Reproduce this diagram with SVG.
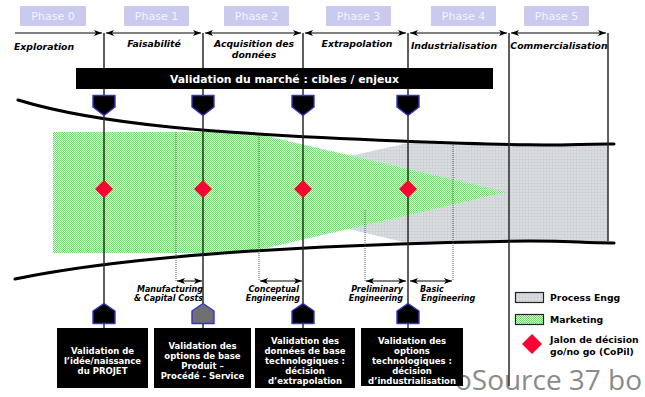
<svg xmlns="http://www.w3.org/2000/svg" width="645" height="397" viewBox="0 0 645 397">
<defs>
<style>
.ph{fill:#cacaee}
.pht{font-family:"DejaVu Sans",Verdana,sans-serif;font-size:11px;fill:#f2f2ff;text-anchor:middle}
.lbl{font-family:"DejaVu Sans",Verdana,sans-serif;font-size:9.3px;font-weight:bold;font-style:italic;fill:#000}
.sm{font-family:"DejaVu Sans",Verdana,sans-serif;font-size:8px;font-weight:bold;font-style:italic;fill:#000}
.bx{fill:#000}
.bxt{font-family:"DejaVu Sans",Verdana,sans-serif;font-size:8.5px;font-weight:bold;fill:#fff;text-anchor:middle}
.leg{font-family:"DejaVu Sans",Verdana,sans-serif;font-size:9.3px;font-weight:bold;fill:#000}
.vl{stroke:#2a2a2a;stroke-width:1.5;fill:none}
.dot{stroke:#555;stroke-width:1;stroke-dasharray:1 1;fill:none}
.arr{stroke:#000;stroke-width:1;fill:none;marker-start:url(#ah);marker-end:url(#ah)}
.arrR{stroke:#000;stroke-width:1;fill:none;marker-end:url(#ah)}
.sh{fill:#000;stroke:#3434c8;stroke-width:1.4;stroke-linejoin:round}
.dia{fill:#ff0033}
.curve{stroke:#000;stroke-width:3;fill:none;stroke-linecap:round}
</style>
<marker id="ah" viewBox="0 0 8 6" refX="8" refY="3" markerWidth="8" markerHeight="6" markerUnits="userSpaceOnUse" orient="auto-start-reverse">
<path d="M0,0 L8,3 L0,6 L2,3 Z" fill="#000"/>
</marker>
<pattern id="gp" width="2" height="2" patternUnits="userSpaceOnUse">
<rect width="2" height="2" fill="#e2f9e2"/>
<rect width="1" height="1" fill="#72d872"/>
<rect x="1" y="1" width="1" height="1" fill="#72d872"/>
</pattern>
<pattern id="gr" width="3" height="3" patternUnits="userSpaceOnUse">
<rect width="3" height="3" fill="#dadee1"/>
<rect width="3" height="1" fill="#cfd3d7"/>
<rect width="1" height="3" fill="#cfd3d7"/>
</pattern>
</defs>
<rect width="645" height="397" fill="#fff"/>

<g id="phases">
<rect class="ph" x="20" y="6" width="66" height="20"/><text class="pht" x="53" y="20">Phase 0</text>
<rect class="ph" x="124" y="6" width="65" height="20"/><text class="pht" x="156.5" y="20">Phase 1</text>
<rect class="ph" x="224" y="6" width="65" height="20"/><text class="pht" x="256.5" y="20">Phase 2</text>
<rect class="ph" x="326" y="6" width="65" height="20"/><text class="pht" x="358.5" y="20">Phase 3</text>
<rect class="ph" x="431" y="6" width="65" height="20"/><text class="pht" x="463.5" y="20">Phase 4</text>
<rect class="ph" x="524" y="6" width="65" height="20"/><text class="pht" x="556.5" y="20">Phase 5</text>
</g>

<g id="phase-names">
<text class="lbl" x="14" y="50">Exploration</text>
<text class="lbl" x="154" y="47" text-anchor="middle">Faisabilité</text>
<text class="lbl" x="254" y="47" text-anchor="middle">Acquisition des</text>
<text class="lbl" x="254" y="58" text-anchor="middle">données</text>
<text class="lbl" x="357" y="47" text-anchor="middle">Extrapolation</text>
<text class="lbl" x="454" y="49" text-anchor="middle">Industrialisation</text>
<text class="lbl" x="559" y="49" text-anchor="middle">Commercialisation</text>
</g>

<g id="areas">
<path d="M190,192 L408,143 L608,143.5 L608,242 L408,243 Z" fill="url(#gr)"/>
<path d="M53,132 L250,132 L507,192 L245,253 L53,253 Z" fill="url(#gp)"/>
</g>

<g id="watermark">
<text x="455" y="390" font-family="'Open Sans',sans-serif" font-size="27" fill="#8a8a8a" textLength="187" lengthAdjust="spacingAndGlyphs">oSource 37 bo</text>
</g>

<g id="connectors">
<path class="curve" d="M18,100 C100,125 220,134 400,141 S560,143.5 614,144"/>
<path class="curve" d="M15,279 C97,262 220,250 400,244 S560,243 614,243"/>
<line class="arrR" x1="15" y1="33" x2="102" y2="33"/>
<line class="arr" x1="106" y1="33" x2="201" y2="33"/>
<line class="arr" x1="205" y1="33" x2="301" y2="33"/>
<line class="arr" x1="305" y1="33" x2="406" y2="33"/>
<line class="arr" x1="410" y1="33" x2="507" y2="33"/>
<line class="arr" x1="511" y1="33" x2="606" y2="33"/>
<line class="vl" x1="104" y1="33" x2="104" y2="328"/>
<line class="vl" x1="203" y1="33" x2="203" y2="328"/>
<line class="vl" x1="303" y1="33" x2="303" y2="328"/>
<line class="vl" x1="408" y1="33" x2="408" y2="328"/>
<line class="vl" x1="509" y1="33" x2="509" y2="386"/>
<line class="vl" x1="608" y1="33" x2="608" y2="241"/>
<line class="dot" x1="176" y1="132" x2="176" y2="281"/>
<line class="dot" x1="259" y1="137" x2="259" y2="281"/>
<line class="dot" x1="365" y1="210" x2="365" y2="281"/>
<line class="dot" x1="453" y1="145" x2="453" y2="281"/>
<line class="arr" x1="177" y1="281" x2="202" y2="281"/>
<line class="arr" x1="260" y1="281" x2="302" y2="281"/>
<line class="arr" x1="366" y1="281" x2="406" y2="281"/>
<line class="arr" x1="410" y1="281" x2="452" y2="281"/>
</g>

<g id="banner">
<rect x="76" y="68" width="417" height="21" fill="#000"/>
<text x="284.5" y="82.5" font-family="'DejaVu Sans',Verdana,sans-serif" font-size="10.8" font-weight="bold" fill="#fff" text-anchor="middle">Validation du marché : cibles / enjeux</text>
</g>

<g id="sub-labels">
<text class="sm" x="203" y="292" text-anchor="end">Manufacturing</text>
<text class="sm" x="203" y="301" text-anchor="end">&amp; Capital Costs</text>
<text class="sm" x="299" y="292" text-anchor="end">Conceptual</text>
<text class="sm" x="300" y="301" text-anchor="end">Engineering</text>
<text class="sm" x="403" y="292" text-anchor="end">Preliminary</text>
<text class="sm" x="403" y="301" text-anchor="end">Engineering</text>
<text class="sm" x="420" y="292">Basic</text>
<text class="sm" x="421" y="301">Engineering</text>
</g>

<g id="top-shields">
<path class="sh" d="M93,95.5 H115 V107 L104,115.5 L93,107 Z"/>
<path class="sh" d="M192,95.5 H214 V107 L203,115.5 L192,107 Z"/>
<path class="sh" d="M292,95.5 H314 V107 L303,115.5 L292,107 Z"/>
<path class="sh" d="M397,95.5 H419 V107 L408,115.5 L397,107 Z"/>
</g>

<g id="milestones">
<path class="dia" d="M104,180 L113,189 L104,198 L95,189 Z"/>
<path class="dia" d="M203,180 L212,189 L203,198 L194,189 Z"/>
<path class="dia" d="M303,180 L312,189 L303,198 L294,189 Z"/>
<path class="dia" d="M408,180 L417,189 L408,198 L399,189 Z"/>
</g>

<g id="bottom-shields">
<path class="sh" d="M104,303.5 L115,311 V323.5 H93 V311 Z"/>
<path class="sh" d="M203,303.5 L214,311 V323.5 H192 V311 Z" style="fill:#707070"/>
<path class="sh" d="M303,303.5 L314,311 V323.5 H292 V311 Z"/>
<path class="sh" d="M408,303.5 L419,311 V323.5 H397 V311 Z"/>
</g>

<g id="box1">
<rect class="bx" x="57" y="328" width="91" height="60"/>
<text class="bxt" x="102.5" y="354">Validation de</text>
<text class="bxt" x="102.5" y="364">l’idée/naissance</text>
<text class="bxt" x="102.5" y="374">du PROJET</text>
</g>
<g id="box2">
<rect class="bx" x="154" y="328" width="97" height="60"/>
<text class="bxt" x="202.5" y="349">Validation des</text>
<text class="bxt" x="202.5" y="359">options de base</text>
<text class="bxt" x="202.5" y="369">Produit –</text>
<text class="bxt" x="202.5" y="379">Procédé - Service</text>
</g>
<g id="box3">
<rect class="bx" x="255" y="328" width="100" height="60"/>
<text class="bxt" x="305" y="344">Validation des</text>
<text class="bxt" x="305" y="354">données de base</text>
<text class="bxt" x="305" y="364">technologiques :</text>
<text class="bxt" x="305" y="374">décision</text>
<text class="bxt" x="305" y="384">d’extrapolation</text>
</g>
<g id="box4">
<rect class="bx" x="361" y="328" width="102" height="58"/>
<text class="bxt" x="412" y="344">Validation des</text>
<text class="bxt" x="412" y="354">options</text>
<text class="bxt" x="412" y="364">technologiques :</text>
<text class="bxt" x="412" y="374">décision</text>
<text class="bxt" x="412" y="384">d’industrialisation</text>
</g>

<g id="legend">
<rect x="515.5" y="292.5" width="28" height="10" fill="url(#gr)" stroke="#222" stroke-width="1.2"/>
<text class="leg" x="550" y="301">Process Engg</text>
<rect x="515.5" y="314.5" width="28" height="10" fill="url(#gp)" stroke="#222" stroke-width="1.2"/>
<text class="leg" x="550" y="323">Marketing</text>
<path class="dia" d="M532,334 L542,344 L532,354 L522,344 Z"/>
<text class="leg" x="550" y="343">Jalon de décision</text>
<text class="leg" x="550" y="355">go/no go (CoPil)</text>
</g>
</svg>
